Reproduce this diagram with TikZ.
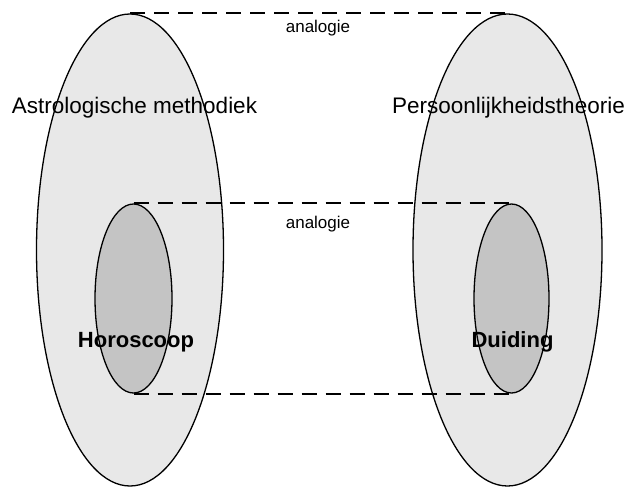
\documentclass[tikz,border=0pt]{standalone}
\usepackage{fontspec}
\setmainfont{Liberation Sans}
\usetikzlibrary{shapes.geometric}
\definecolor{outerfill}{HTML}{E8E8E8}
\definecolor{innerfill}{HTML}{C4C4C4}
\begin{document}
\begin{tikzpicture}[x=1pt,y=-1pt,
  outerell/.style={ellipse, draw=black, line width=1.3pt, fill=outerfill, inner sep=0pt, minimum width=187pt, minimum height=472pt},
  innerell/.style={ellipse, draw=black, line width=1.3pt, fill=innerfill, inner sep=0pt, minimum width=77pt, minimum height=189pt},
  analink/.style={draw=black, line width=1.8pt, dash pattern=on 15pt off 9pt},
  biglabel/.style={anchor=base, inner sep=0pt, font=\fontsize{22.5}{26}\selectfont},
  boldlabel/.style={anchor=base, inner sep=0pt, font=\fontsize{22}{26}\selectfont\bfseries},
  analabel/.style={anchor=base, inner sep=0pt, font=\fontsize{17}{20}\selectfont}]
\useasboundingbox (0,0) rectangle (629,487);
\node[outerell] (L) at (130,250) {};
\node[outerell, minimum width=189pt] (R) at (507.5,250) {};
\node[innerell] (li) at (133.5,298.5) {};
\node[innerell, minimum width=75pt] (ri) at (511.5,298.5) {};
\draw[analink] (L.north) -- (R.north);
\draw[analink] (li.north) -- (ri.north);
\draw[analink] (li.south) -- (ri.south);
\node[analabel] (a1) at (318,33) {analogie};
\node[analabel] (a2) at (318,228) {analogie};
\node[biglabel] (tl) at (134.5,113) {Astrologische methodiek};
\node[biglabel] (tr) at (508.5,113) {Persoonlijkheidstheorie};
\node[boldlabel] (bl) at (136,347) {Horoscoop};
\node[boldlabel] (br) at (512.5,347) {Duiding};
\end{tikzpicture}
\end{document}
